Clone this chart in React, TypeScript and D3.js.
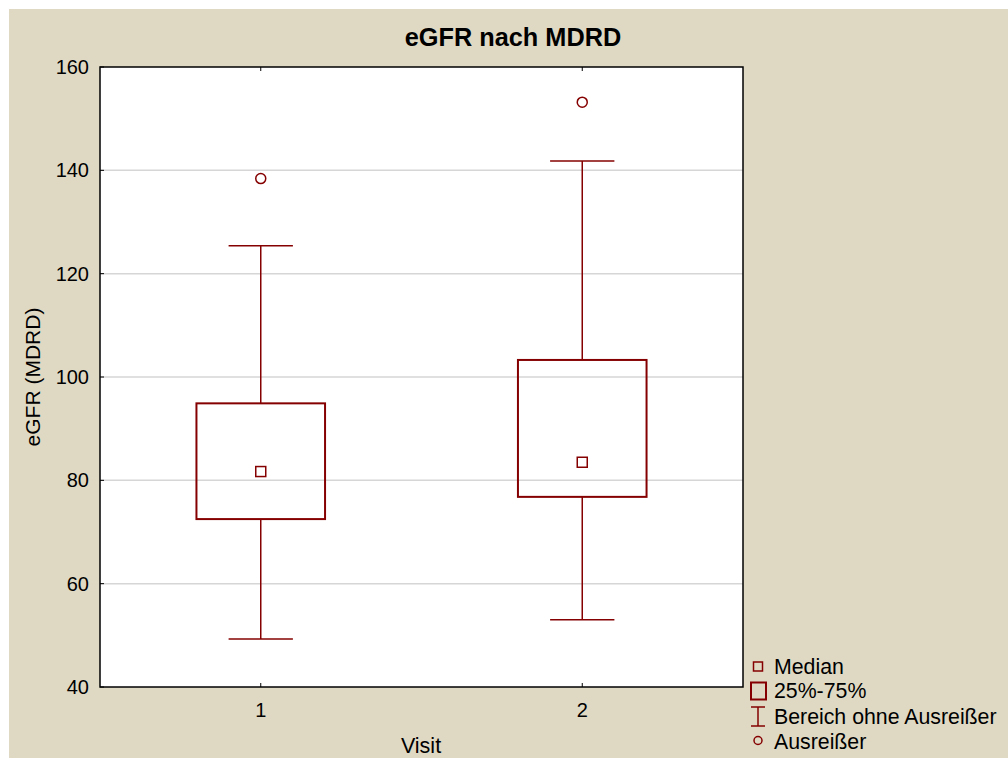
import React from "react";
import * as d3 from "d3";

const categories = ["1", "2"];
const q1 = [72.5, 76.8];
const q3 = [94.9, 103.3];
const medians = [81.7, 83.5];
const whiskerLow = [49.3, 53.0];
const whiskerHigh = [125.4, 141.8];
const outliers = [138.4, 153.2];
const yTicks = [40, 60, 80, 100, 120, 140, 160];
const legendItems = ["Median", "25%-75%", "Bereich ohne Ausreißer", "Ausreißer"];

const W = 1008;
const H = 758;
const L = 100, R = 743, T = 67, B = 687;
const RED = "#850000";
const FONT = "Liberation Sans, Arial, sans-serif";

export default function App() {
  const y = d3.scaleLinear().domain([40, 160]).range([B, T]);
  const x = d3.scalePoint<string>().domain(categories).range([L, R]).padding(0.5);
  const boxW = x.step() * 0.4;
  const capW = boxW / 2;

  return (
    <svg width={W} height={H} style={{ position: "absolute", left: 0, top: 0 }} fontFamily={FONT}>
      <rect x={0} y={0} width={W} height={H} fill="#ffffff" />
      <rect x={9} y={9} width={W - 9} height={H - 9} fill="#dfd9c4" />
      <rect x={L} y={T} width={R - L} height={B - T} fill="#ffffff" />
      {yTicks.filter((t) => t > 40 && t < 160).map((t) => (
        <line key={"g" + t} x1={L} x2={R} y1={y(t)} y2={y(t)} stroke="#d6d6d6" strokeWidth={1.5} />
      ))}
      {categories.map((c, i) => {
        const cx = x(c)!;
        return (
          <g key={c}>
            <line x1={cx} x2={cx} y1={y(q3[i])} y2={y(whiskerHigh[i])} stroke={RED} strokeWidth={1.5} />
            <line x1={cx} x2={cx} y1={y(q1[i])} y2={y(whiskerLow[i])} stroke={RED} strokeWidth={1.5} />
            <line x1={cx - capW / 2} x2={cx + capW / 2} y1={y(whiskerHigh[i])} y2={y(whiskerHigh[i])} stroke={RED} strokeWidth={1.5} />
            <line x1={cx - capW / 2} x2={cx + capW / 2} y1={y(whiskerLow[i])} y2={y(whiskerLow[i])} stroke={RED} strokeWidth={1.5} />
            <rect x={cx - boxW / 2} y={y(q3[i])} width={boxW} height={y(q1[i]) - y(q3[i])} fill="none" stroke={RED} strokeWidth={2} />
            <rect x={cx - 5} y={y(medians[i]) - 5} width={10} height={10} fill="#ffffff" stroke={RED} strokeWidth={1.5} />
            <circle cx={cx} cy={y(outliers[i])} r={5} fill="#ffffff" stroke={RED} strokeWidth={1.5} />
          </g>
        );
      })}
      <rect x={L} y={T} width={R - L} height={B - T} fill="none" stroke="#000" strokeWidth={1.5} />
      {yTicks.map((t) => (
        <g key={"t" + t}>
          <line x1={L} x2={L + 4} y1={y(t)} y2={y(t)} stroke="#000" strokeWidth={1} />
          <text x={89} y={y(t)} dy="0.35em" textAnchor="end" fontSize={20} fill="#000">{t}</text>
        </g>
      ))}
      {categories.map((c) => (
        <g key={"x" + c}>
          <line x1={x(c)} x2={x(c)} y1={B} y2={B - 4} stroke="#000" strokeWidth={1} />
          <line x1={x(c)} x2={x(c)} y1={T} y2={T + 4} stroke="#000" strokeWidth={1} />
          <text x={x(c)} y={717} textAnchor="middle" fontSize={20} fill="#000">{c}</text>
        </g>
      ))}
      <text x={513} y={46} textAnchor="middle" fontSize={25.3} fontWeight="bold" fill="#000">eGFR nach MDRD</text>
      <text x={421} y={753} textAnchor="middle" fontSize={21.5} fill="#000">Visit</text>
      <text transform={`translate(40,377) rotate(-90)`} textAnchor="middle" fontSize={21} fill="#000">eGFR (MDRD)</text>
      {/* legend */}
      <g>
        <rect x={753.5} y={662} width={9} height={9} fill="none" stroke={RED} strokeWidth={1.5} />
        <rect x={751} y={682.5} width={15} height={17} fill="none" stroke={RED} strokeWidth={2} />
        <line x1={758} x2={758} y1={707} y2={726} stroke={RED} strokeWidth={1.5} />
        <line x1={751} x2={765} y1={707} y2={707} stroke={RED} strokeWidth={1.5} />
        <line x1={751} x2={765} y1={726} y2={726} stroke={RED} strokeWidth={1.5} />
        <circle cx={758} cy={740.5} r={4} fill="none" stroke={RED} strokeWidth={1.5} />
        {legendItems.map((s, i) => (
          <text key={s} x={774} y={[674, 698, 724, 749][i]} fontSize={21.3} fill="#000">{s}</text>
        ))}
      </g>
    </svg>
  );
}
